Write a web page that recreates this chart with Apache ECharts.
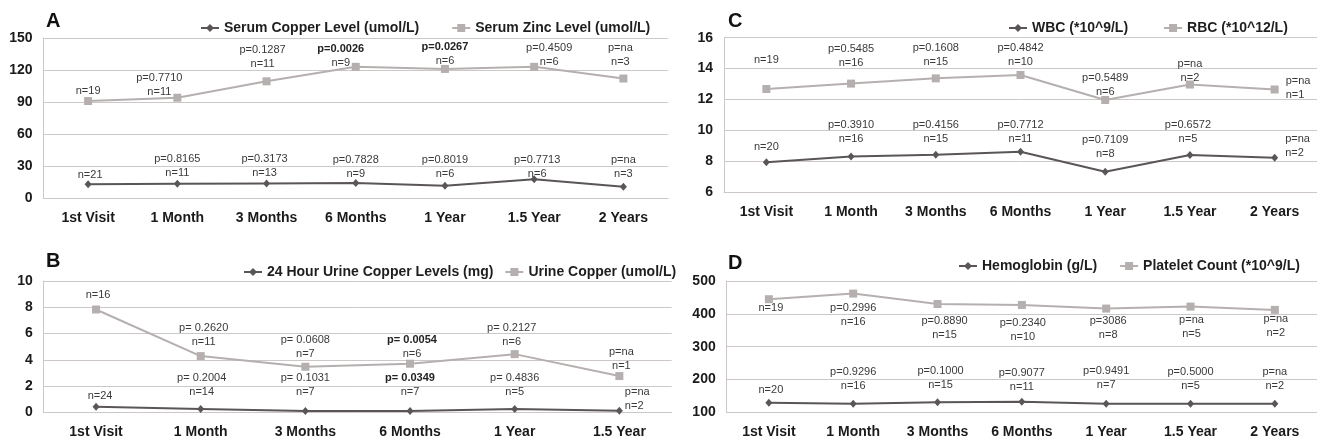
<!DOCTYPE html>
<html>
<head>
<meta charset="utf-8">
<script src="https://cdn.jsdelivr.net/npm/echarts@6/dist/echarts.min.js"></script>
<style>
  html, body { margin: 0; padding: 0; background: #fff; }
  #chart { width: 1317px; height: 440px; }
</style>
</head>
<body>
<div id="chart"></div>
<script>
// time points
const visits7 = ['1st Visit', '1 Month', '3 Months', '6 Months', '1 Year', '1.5 Year', '2 Years'];
const visits6 = ['1st Visit', '1 Month', '3 Months', '6 Months', '1 Year', '1.5 Year'];

// A - serum copper / zinc (umol/L)
const serumCopper = [12.8, 13.4, 13.7, 14.0, 11.5, 17.5, 10.6];
const serumCopperP = [null, 'p=0.8165', 'p=0.3173', 'p=0.7828', 'p=0.8019', 'p=0.7713', 'p=na'];
const serumCopperN = [21, 11, 13, 9, 6, 6, 3];
const serumZinc = [90.9, 94.0, 109.4, 123.0, 121.0, 123.0, 112.0];
const serumZincP = [null, 'p=0.7710', 'p=0.1287', 'p=0.0026', 'p=0.0267', 'p=0.4509', 'p=na'];
const serumZincN = [19, 11, 11, 9, 6, 6, 3];

// B - urine copper
const urine24h = [0.43, 0.25, 0.1, 0.1, 0.25, 0.12];
const urine24hP = [null, 'p= 0.2004', 'p= 0.1031', 'p= 0.0349', 'p= 0.4836', 'p=na'];
const urine24hN = [24, 14, 7, 7, 5, 2];
const urineCu = [7.83, 4.28, 3.47, 3.70, 4.43, 2.76];
const urineCuP = [null, 'p= 0.2620', 'p= 0.0608', 'p= 0.0054', 'p= 0.2127', 'p=na'];
const urineCuN = [16, 11, 7, 6, 6, 1];

// C - WBC / RBC
const wbc = [7.94, 8.32, 8.43, 8.62, 7.33, 8.41, 8.23];
const wbcP = [null, 'p=0.3910', 'p=0.4156', 'p=0.7712', 'p=0.7109', 'p=0.6572', 'p=na'];
const wbcN = [20, 16, 15, 11, 8, 5, 2];
const rbc = [12.68, 13.03, 13.37, 13.59, 11.97, 12.97, 12.65];
const rbcP = [null, 'p=0.5485', 'p=0.1608', 'p=0.4842', 'p=0.5489', 'p=na', 'p=na'];
const rbcN = [19, 16, 15, 10, 6, 2, 1];

// D - hemoglobin / platelets
const hemoglobin = [129, 126, 130.5, 132, 126, 126, 126];
const hemoglobinP = [null, 'p=0.9296', 'p=0.1000', 'p=0.9077', 'p=0.9491', 'p=0.5000', 'p=na'];
const hemoglobinN = [20, 16, 15, 11, 7, 5, 2];
const platelets = [444.5, 461.6, 430, 427, 416, 422, 412];
const plateletsP = [null, 'p=0.2996', 'p=0.8890', 'p=0.2340', 'p=3086', 'p=na', 'p=na'];
const plateletsN = [19, 16, 15, 10, 8, 5, 2];

// label nudges [dx, dy, position]
const copperPlace = [[2,-2],[0,-4],[-2,-3],[0,-2],[0,-5],[3,2],[0,-6]];
const zincPlace = [[0,-3],[-18,1],[-4,-10],[-15,3],[0,-1],[15,2],[-3,-10]];
const wbcPlace = [[0,-8],[0,-10],[0,-9],[0,-6],[0,-11],[-2,-9],[7,-12,'right']];
const rbcPlace = [[0,-22],[0,-14],[0,-9],[0,-6],[0,-1],[0,0],[7,-2,'right']];
const urine24Place = [[4,-4],[1,-10],[0,-12],[0,-12],[0,-10],[2,-12,'right']];
const urinePlace = [[2,-8],[3,-7],[0,-6],[2,-3],[-3,-5],[2,-3]];
const hbPlace = [[2,-6],[0,-11],[3,-10],[0,-8],[0,-12],[0,-11],[0,-11]];
const pltPlace = [[2,2],[0,7],[7,10],[1,11],[2,5],[1,6],[1,2]];

const FONT = "'Liberation Sans', Arial, Helvetica, sans-serif";
const GRID = '#cdc8c7';
const DARK = { color: '#5a5657', symbol: 'diamond', size: [7, 8], z: 3 };
const LIGHT = { color: '#b5b0af', symbol: 'rect', size: 8, z: 2 };

function labelText(p, n) {
  const nPart = '{n|n=' + n + '}';
  if (!p) return nPart;
  const bold = parseFloat(p.replace('p=', '')) < 0.05;
  return '{' + (bold ? 'pb' : 'p') + '|' + p + '}\n' + nPart;
}

function line(name, idx, values, pList, nList, look, place, below) {
  const txt = { fontSize: 11, lineHeight: 14, color: '#3a3a3a', fontFamily: FONT };
  return {
    name: name,
    type: 'line',
    xAxisIndex: idx,
    yAxisIndex: idx,
    symbol: look.symbol,
    symbolSize: look.size,
    z: look.z,
    itemStyle: { color: look.color },
    lineStyle: { color: look.color, width: 2 },
    data: values.map((v, i) => {
      const pos = place[i][2] || (below ? 'bottom' : 'top');
      return {
        value: v,
        // labels sit on the point centre, not the symbol edge
        label: { position: pos, distance: pos === 'right' ? 0 : -4, offset: [place[i][0], place[i][1]] }
      };
    }),
    label: {
      show: true,
      formatter: d => labelText(pList[d.dataIndex], nList[d.dataIndex]),
      rich: { p: txt, pb: Object.assign({}, txt, { fontWeight: 'bold', color: '#222' }), n: txt }
    }
  };
}

const grids = [
  { left: 43.5, top: 38, width: 624.5, height: 160 },   // A
  { left: 724, top: 37.7, width: 597, height: 154.6 },  // C
  { left: 43.7, top: 281, width: 628, height: 131.3 },  // B
  { left: 726.7, top: 281, width: 592.3, height: 131.3 } // D
];
const cats = [visits7, visits7, visits6, visits7];
const yRange = [[0, 150, 30], [6, 16, 2], [0, 10, 2], [100, 500, 100]];

const axisText = { fontSize: 14, fontWeight: 'bold', color: '#1a1a1a', fontFamily: FONT };

const chart = echarts.init(document.getElementById('chart'));
const legendBase = {
  itemWidth: 18, itemHeight: 10, padding: 0, selectedMode: false,
  textStyle: { fontSize: 14, fontWeight: 'bold', color: '#1e1e1e', fontFamily: FONT }
};
const titleStyle = { fontSize: 20, fontWeight: 'bold', color: '#111', fontFamily: FONT };

chart.setOption({
  animation: false,
  backgroundColor: '#fff',
  title: [
    { text: 'A', left: 46, top: 11, padding: 0, textStyle: titleStyle },
    { text: 'C', left: 728, top: 11, padding: 0, textStyle: titleStyle },
    { text: 'B', left: 46, top: 251, padding: 0, textStyle: titleStyle },
    { text: 'D', left: 728, top: 253, padding: 0, textStyle: titleStyle }
  ],
  legend: [
    Object.assign({ left: 200, top: 21, itemGap: 32, data: ['Serum Copper Level (umol/L)', 'Serum Zinc Level (umol/L)'] }, legendBase),
    Object.assign({ left: 1008, top: 21, itemGap: 35, data: ['WBC (*10^9/L)', 'RBC (*10^12/L)'] }, legendBase),
    Object.assign({ left: 243, top: 265, itemGap: 11, data: ['24 Hour Urine Copper Levels (mg)', 'Urine Copper (umol/L)'] }, legendBase),
    Object.assign({ left: 958, top: 259, itemGap: 22, data: ['Hemoglobin (g/L)', 'Platelet Count (*10^9/L)'] }, legendBase)
  ],
  grid: grids,
  xAxis: cats.map((c, i) => ({
    type: 'category',
    gridIndex: i,
    data: c,
    axisLine: { show: true, lineStyle: { color: GRID, width: 1 } },
    axisTick: { show: false },
    axisLabel: Object.assign({ margin: 13, interval: 0 }, axisText)
  })),
  yAxis: yRange.map((r, i) => ({
    type: 'value',
    gridIndex: i,
    min: r[0], max: r[1], interval: r[2],
    axisLine: { show: true, lineStyle: { color: GRID, width: 1 } },
    axisTick: { show: false },
    splitLine: { show: true, lineStyle: { color: GRID, width: 1 } },
    axisLabel: Object.assign({ margin: 11 }, axisText)
  })),
  series: [
    line('Serum Copper Level (umol/L)', 0, serumCopper, serumCopperP, serumCopperN, DARK, copperPlace),
    line('Serum Zinc Level (umol/L)', 0, serumZinc, serumZincP, serumZincN, LIGHT, zincPlace),
    line('WBC (*10^9/L)', 1, wbc, wbcP, wbcN, DARK, wbcPlace),
    line('RBC (*10^12/L)', 1, rbc, rbcP, rbcN, LIGHT, rbcPlace),
    line('24 Hour Urine Copper Levels (mg)', 2, urine24h, urine24hP, urine24hN, DARK, urine24Place),
    line('Urine Copper (umol/L)', 2, urineCu, urineCuP, urineCuN, LIGHT, urinePlace),
    line('Hemoglobin (g/L)', 3, hemoglobin, hemoglobinP, hemoglobinN, DARK, hbPlace),
    line('Platelet Count (*10^9/L)', 3, platelets, plateletsP, plateletsN, LIGHT, pltPlace, true)
  ]
});
</script>
</body>
</html>
